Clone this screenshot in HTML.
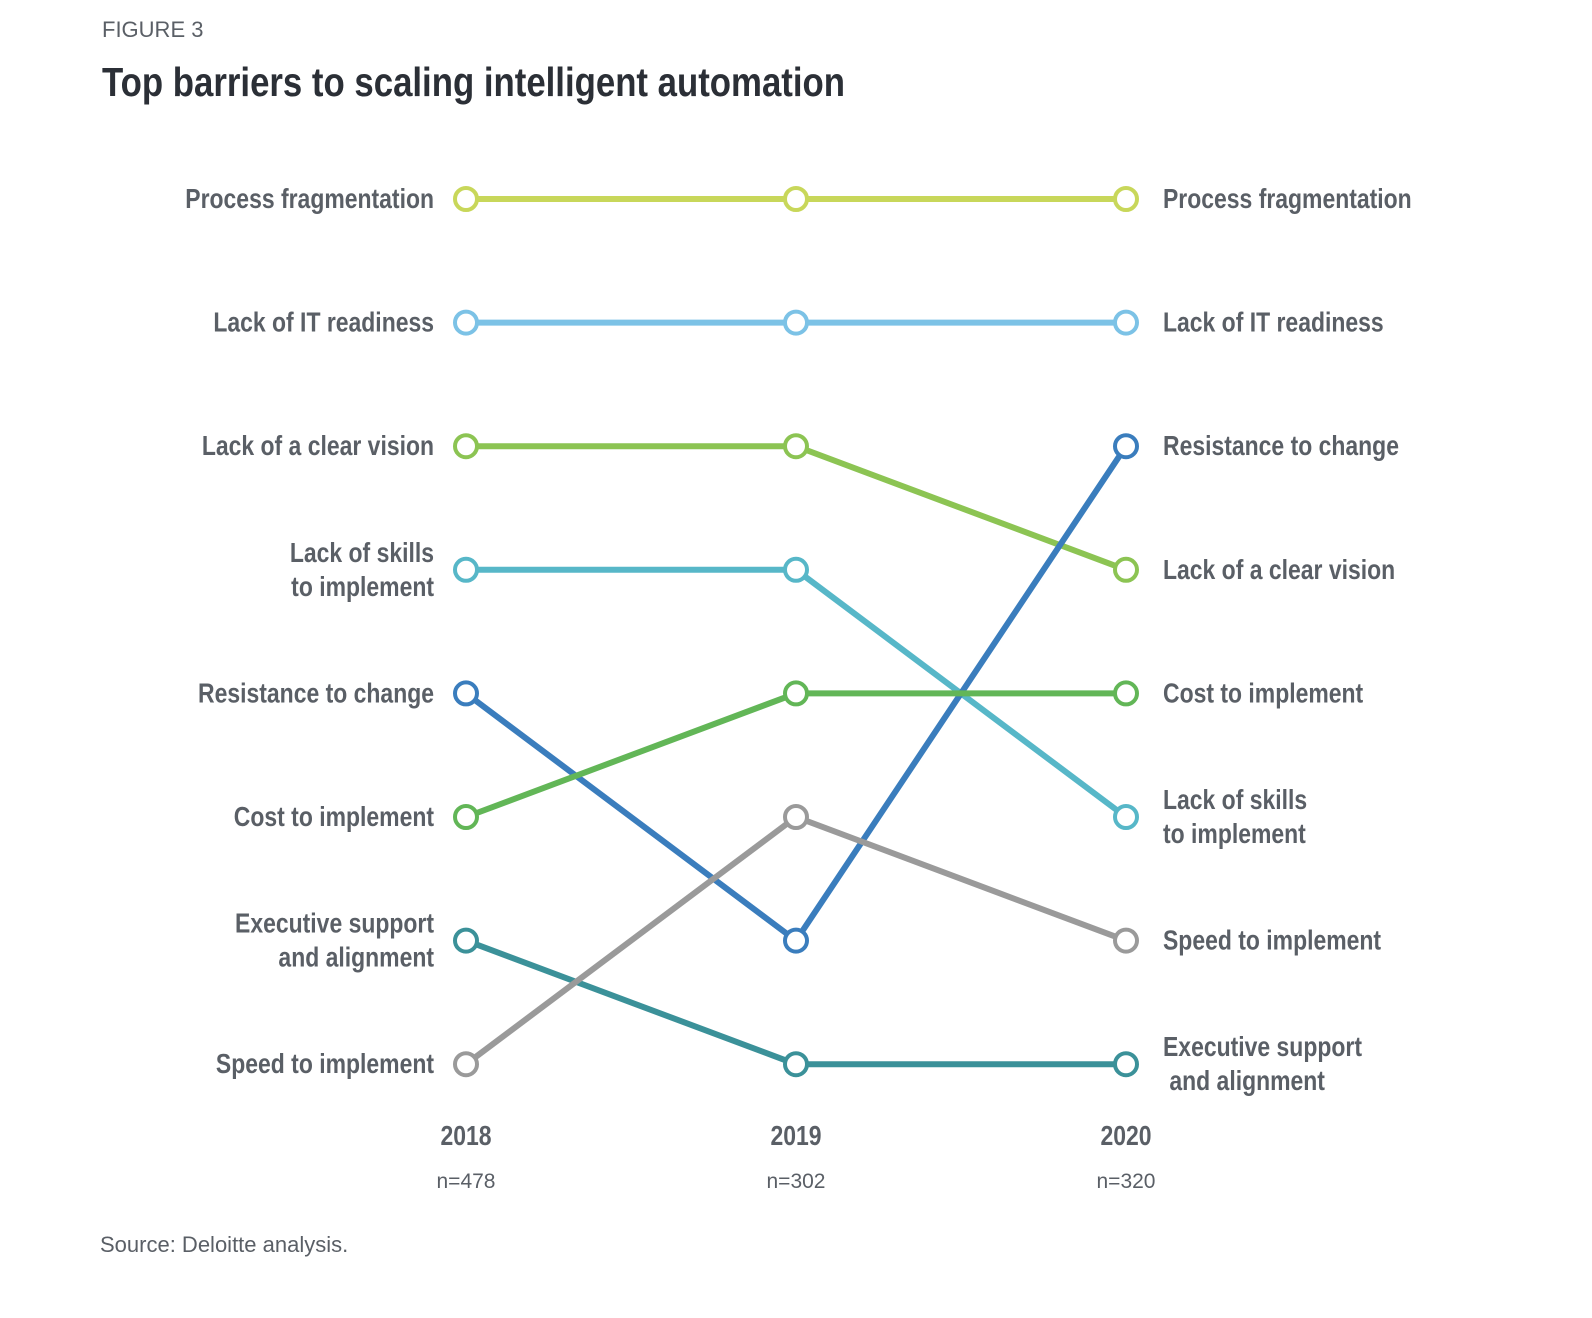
<!DOCTYPE html>
<html><head><meta charset="utf-8"><style>
html,body{margin:0;padding:0;background:#fff;}
svg{display:block;}
.c{font-family:"Liberation Sans Narrow","Liberation Sans",sans-serif;font-weight:bold;fill:#5a5f66;}
.r{font-family:"Liberation Sans",sans-serif;fill:#5a5f66;}
</style></head><body>
<svg id="chart" width="1592" height="1318" viewBox="0 0 1592 1318" xmlns="http://www.w3.org/2000/svg">
<text class="r" x="102" y="37" font-size="22">FIGURE 3</text>
<text class="c" x="102" y="96" font-size="41" style="fill:#2b2f36" textLength="743" lengthAdjust="spacingAndGlyphs">Top barriers to scaling intelligent automation</text>
<g id="lines"></g>
<g id="labels"></g>
<text class="r" x="100" y="1252" font-size="22">Source: Deloitte analysis.</text>
</svg>
<script>
const years=["2018","2019","2020"];
const samples=["n=478","n=302","n=320"];
const series=["Process fragmentation","Lack of IT readiness","Lack of a clear vision","Lack of skills|to implement","Resistance to change","Cost to implement","Executive support|and alignment","Speed to implement"];
const rightLabels=["Process fragmentation","Lack of IT readiness","Lack of a clear vision","Lack of skills|to implement","Resistance to change","Cost to implement","Executive support| and alignment","Speed to implement"];
const colors=["#c8d75a","#7cc2e6","#8cc453","#57b7c8","#3a7dbd","#62b657","#3b9199","#9a9a9a"];
const rank2018=[1,2,3,4,5,6,7,8];
const rank2019=[1,2,3,4,7,5,8,6];
const rank2020=[1,2,4,6,3,5,8,7];
const ranks=[rank2018,rank2019,rank2020];
const NS="http://www.w3.org/2000/svg";
const SX=0.82;
const xs=i=>466+i*330;
const ys=r=>199+(r-1)*123.6;
const gl=document.getElementById('lines'), gt=document.getElementById('labels');
function mk(t,a){const e=document.createElementNS(NS,t);for(const k in a)e.setAttribute(k,a[k]);return e;}
function label(txt,x,y,anchor,name){
  const parts=txt.split('|');
  const t=mk('text',{class:'c',x:0,'font-size':28,'text-anchor':anchor,y:y+9-(parts.length-1)*17,transform:'translate('+x+',0) scale('+SX+',1)'});
  
  
  parts.forEach((p,i)=>{const s=mk('tspan',{x:0,dy:i?34:0});s.textContent=p;t.appendChild(s);});
  gt.appendChild(t);
}
series.forEach((s,i)=>{
  const pts=ranks.map((r,j)=>[xs(j),ys(r[i])]);
  const pl=mk('polyline',{points:pts.map(p=>p.join(',')).join(' '),fill:'none',stroke:colors[i],'stroke-width':6});
  
  
  gl.appendChild(pl);
});
series.forEach((s,i)=>{
  ranks.forEach((r,j)=>{
    const c=mk('circle',{cx:xs(j),cy:ys(r[i]),r:11,fill:'#fff',stroke:colors[i],'stroke-width':4});
    
    
    gl.appendChild(c);
  });
  label(s,434,ys(rank2018[i]),'end','left-label');
  label(rightLabels[i],1163,ys(rank2020[i]),'start','right-label');
});
years.forEach((y,j)=>{
  const t=mk('text',{class:'c',x:0,y:1145,'font-size':28,'text-anchor':'middle',transform:'translate('+xs(j)+',0) scale('+SX+',1)'});
  t.textContent=y;
  
  
  gt.appendChild(t);
  const n=mk('text',{class:'r',x:xs(j),y:1188,'font-size':21,'text-anchor':'middle'});
  n.textContent=samples[j];
  
  
  gt.appendChild(n);
});
</script>
</body></html>
